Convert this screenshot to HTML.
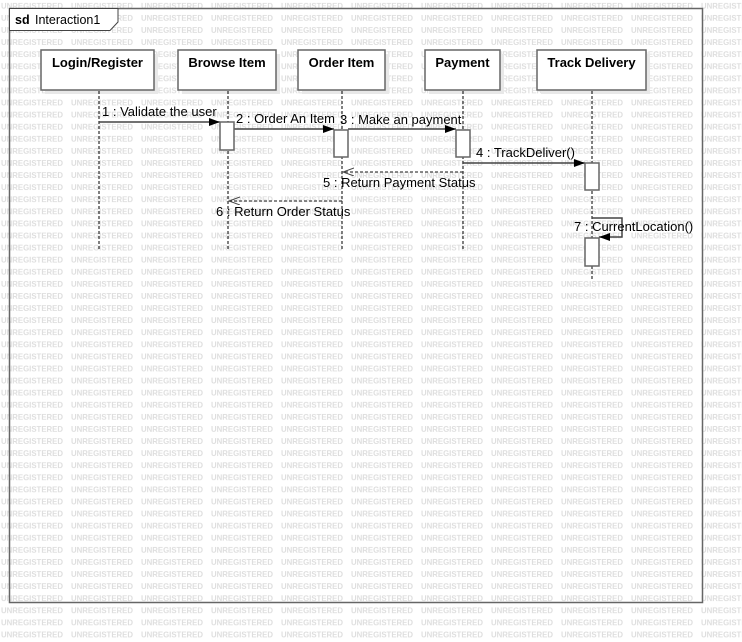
<!DOCTYPE html>
<html><head><meta charset="utf-8"><style>
html,body{margin:0;padding:0;background:#fff;}
svg{display:block;}
text{font-family:"Liberation Sans",sans-serif;}
</style></head><body>
<svg width="742" height="642" viewBox="0 0 742 642" xmlns="http://www.w3.org/2000/svg">
<defs>
<pattern id="wm" x="1" y="-0.5" width="70" height="12.09" patternUnits="userSpaceOnUse">
<text x="0" y="9" font-size="8" font-weight="bold" fill="#dedede" textLength="62" lengthAdjust="spacingAndGlyphs">UNREGISTERED</text>
</pattern>
<marker id="fa" markerWidth="12" markerHeight="10" refX="11" refY="4" orient="auto" markerUnits="userSpaceOnUse"><path d="M0,0 L11,4 L0,8 z" fill="#000"/></marker>
<marker id="oa" markerWidth="12" markerHeight="10" refX="11" refY="4" orient="auto" markerUnits="userSpaceOnUse"><path d="M0,0 L11,4 L0,8" fill="none" stroke="#444" stroke-width="1"/></marker>
</defs>
<rect width="742" height="642" fill="url(#wm)"/>
<rect x="9.5" y="8.5" width="693" height="594" fill="none" stroke="#666" stroke-width="1.5"/>
<path d="M9.5,8.5 H118 V22 L110,30.5 H9.5 Z" fill="#fff" stroke="#444" stroke-width="1"/>
<text x="15" y="24" font-size="12.5" font-weight="bold" fill="#000">sd</text>
<text x="35" y="24" font-size="12.5" fill="#000">Interaction1</text>
<g fill="#e8e8e8">
<rect x="45" y="54" width="113" height="40"/><rect x="182" y="54" width="98" height="40"/>
<rect x="302" y="54" width="87" height="40"/><rect x="429" y="54" width="75" height="40"/>
<rect x="541" y="54" width="109" height="40"/>
</g>
<g fill="#fff" stroke="#666" stroke-width="1.5">
<rect x="41" y="50" width="113" height="40"/><rect x="178" y="50" width="98" height="40"/>
<rect x="298" y="50" width="87" height="40"/><rect x="425" y="50" width="75" height="40"/>
<rect x="537" y="50" width="109" height="40"/>
</g>
<g font-size="13" font-weight="bold" text-anchor="middle" fill="#000">
<text x="97.5" y="67">Login/Register</text><text x="227" y="67">Browse Item</text>
<text x="341.5" y="67">Order Item</text><text x="462.5" y="67">Payment</text>
<text x="591.5" y="67">Track Delivery</text>
</g>
<g stroke="#000" stroke-width="1" stroke-dasharray="3,2">
<line x1="99" y1="91" x2="99" y2="249"/><line x1="228" y1="91" x2="228" y2="249"/>
<line x1="342" y1="91" x2="342" y2="249"/><line x1="463" y1="91" x2="463" y2="250"/>
<line x1="592" y1="91" x2="592" y2="280"/>
</g>
<g stroke="#444" stroke-width="1.5" fill="none">
<line x1="99" y1="122" x2="220" y2="122" marker-end="url(#fa)"/>
<line x1="234" y1="129" x2="334" y2="129" marker-end="url(#fa)"/>
<line x1="348" y1="129" x2="456" y2="129" marker-end="url(#fa)"/>
<line x1="463" y1="163" x2="585" y2="163" marker-end="url(#fa)"/>
<path d="M592,218 H622 V237 H599" marker-end="url(#fa)"/>
</g>
<g stroke="#444" stroke-width="1.2" fill="none" stroke-dasharray="3,2">
<line x1="463" y1="172" x2="343" y2="172" marker-end="url(#oa)"/>
<line x1="342" y1="201" x2="229" y2="201" marker-end="url(#oa)"/>
</g>
<g fill="#fff" stroke="#666" stroke-width="1.5">
<rect x="220" y="122" width="14" height="28"/><rect x="334" y="130" width="14" height="27"/>
<rect x="456" y="130" width="14" height="27"/><rect x="585" y="163" width="14" height="27"/>
<rect x="585" y="238" width="14" height="28"/>
</g>
<g font-size="13" fill="#000">
<text x="102" y="116">1 : Validate the user</text>
<text x="236" y="123">2 : Order An Item</text>
<text x="340" y="124">3 : Make an payment</text>
<text x="476" y="157">4 : TrackDeliver()</text>
<text x="323" y="187">5 : Return  Payment Status</text>
<text x="216" y="216">6 : Return Order Status</text>
<text x="574" y="231">7 : CurrentLocation()</text>
</g>
</svg>
</body></html>
